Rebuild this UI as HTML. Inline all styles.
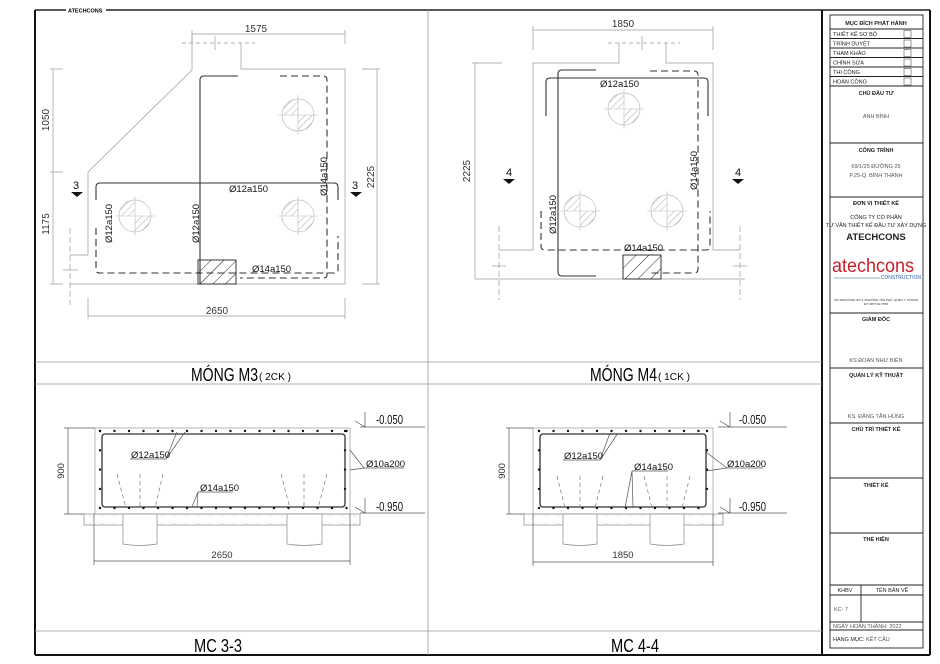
<!DOCTYPE html>
<html><head><meta charset="utf-8"><style>
html,body{margin:0;padding:0;background:#fff;}
svg{display:block;font-family:"Liberation Sans",sans-serif;}
</style></head><body>
<svg width="940" height="664" viewBox="0 0 940 664" xmlns="http://www.w3.org/2000/svg">
<defs>
<pattern id="h" width="5" height="5" patternUnits="userSpaceOnUse" patternTransform="rotate(45)"><line x1="0" y1="0" x2="0" y2="5" stroke="#aaa" stroke-width="1"/></pattern>
<pattern id="hb" width="9" height="9" patternUnits="userSpaceOnUse" patternTransform="rotate(45)"><line x1="0" y1="0" x2="0" y2="9" stroke="#222" stroke-width="1"/></pattern>
<pattern id="sand" width="12" height="8" patternUnits="userSpaceOnUse"><circle cx="2" cy="2" r="0.4" fill="#999"/><circle cx="8" cy="5" r="0.4" fill="#999"/><line x1="5" y1="3" x2="7" y2="3.5" stroke="#bbb" stroke-width="0.4"/></pattern>
<g id="pile"><circle cx="0" cy="0" r="16" fill="none" stroke="#bbb" stroke-width="0.7"/><path d="M0,0 H-16 A16,16 0 0 1 0,-16 Z" fill="url(#h)"/><path d="M0,0 H16 A16,16 0 0 1 0,16 Z" fill="url(#h)"/><line x1="-20" y1="0" x2="20" y2="0" stroke="#bbb" stroke-width="0.6"/><line x1="0" y1="-20" x2="0" y2="20" stroke="#bbb" stroke-width="0.6"/></g>
<g id="sec"><path d="M-6,0 H6 L0,5 Z" fill="#111"/></g>
</defs>

<!-- frame -->
<line x1="35" y1="10" x2="930" y2="10" stroke="#222" stroke-width="1.5"/>
<rect x="66" y="6" width="40" height="8" fill="#fff"/>
<text x="68" y="12.5" font-size="5.5" font-weight="bold">ATECHCONS</text>
<line x1="35" y1="10" x2="35" y2="655" stroke="#111" stroke-width="2"/>
<line x1="35" y1="655" x2="930" y2="655" stroke="#111" stroke-width="2"/>
<line x1="930" y1="10" x2="930" y2="655" stroke="#111" stroke-width="2"/>
<line x1="822" y1="10" x2="822" y2="655" stroke="#111" stroke-width="2"/>
<line x1="428" y1="10" x2="428" y2="655" stroke="#999" stroke-width="0.8"/>
<g stroke="#999" stroke-width="0.8">
<line x1="35" y1="362" x2="822" y2="362"/><line x1="35" y1="384" x2="822" y2="384"/>
<line x1="35" y1="631" x2="822" y2="631"/>
</g>
<text x="191" y="381" font-size="18" textLength="67" lengthAdjust="spacingAndGlyphs">MÓNG M3</text>
<text x="259" y="380" font-size="10" textLength="32" lengthAdjust="spacingAndGlyphs">( 2CK )</text>
<text x="590" y="381" font-size="18" textLength="67" lengthAdjust="spacingAndGlyphs">MÓNG M4</text>
<text x="658" y="380" font-size="10" textLength="32" lengthAdjust="spacingAndGlyphs">( 1CK )</text>
<text x="194" y="652" font-size="18" textLength="48" lengthAdjust="spacingAndGlyphs">MC 3-3</text>
<text x="611" y="652" font-size="18" textLength="48" lengthAdjust="spacingAndGlyphs">MC 4-4</text>

<!-- ===== M3 plan ===== -->
<g fill="none" stroke="#999" stroke-width="0.7">
<path d="M192,35 V70 L88,172 V255 H70"/>
<path d="M241,43 V69 H345 V284 H70"/>
<line x1="182" y1="43" x2="255" y2="43" stroke-dasharray="4,3"/>
<line x1="215" y1="36" x2="215" y2="50"/>
<line x1="70" y1="228" x2="70" y2="305" stroke-dasharray="6,3"/>
<line x1="63" y1="270" x2="78" y2="270"/>
<!-- dims -->
<line x1="192" y1="34" x2="345" y2="34"/><line x1="192" y1="30" x2="192" y2="44"/><line x1="345" y1="30" x2="345" y2="44"/>
<line x1="53" y1="69" x2="53" y2="284"/><line x1="50" y1="69" x2="63" y2="69"/><line x1="50" y1="172" x2="63" y2="172"/><line x1="50" y1="284" x2="63" y2="284"/>
<line x1="377" y1="69" x2="377" y2="284"/><line x1="362" y1="69" x2="380" y2="69"/><line x1="362" y1="284" x2="380" y2="284"/>
<line x1="88" y1="316" x2="345" y2="316"/><line x1="88" y1="298" x2="88" y2="319"/><line x1="345" y1="298" x2="345" y2="319"/>
</g>
<g font-size="10" fill="#333">
<text x="256" y="32" text-anchor="middle">1575</text>
<text transform="translate(49,120) rotate(-90)" text-anchor="middle">1050</text>
<text transform="translate(49,224) rotate(-90)" text-anchor="middle">1175</text>
<text transform="translate(374,177) rotate(-90)" text-anchor="middle">2225</text>
<text x="217" y="314" text-anchor="middle">2650</text>
</g>
<use href="#pile" x="298" y="115"/><use href="#pile" x="135" y="216"/><use href="#pile" x="298" y="216"/>
<g fill="none" stroke="#333" stroke-width="1.1">
<path d="M238,76 H204 Q200,76 200,80 V284"/>
<path d="M96,200 V187 Q96,183 100,183 H334 Q338,183 338,187 V200"/>
<path d="M96,228 V270 Q96,273 100,273 H334 Q338,273 338,270 V236" stroke-dasharray="7,4"/>
<path d="M280,76 H323 Q327,76 327,80 V275 Q327,278 323,278 H240" stroke-dasharray="7,4"/>
</g>
<rect x="198" y="260" width="38" height="24" fill="url(#hb)" stroke="#222" stroke-width="0.9"/>
<g font-size="9.5" fill="#111">
<text x="229" y="192">Ø12a150</text>
<text x="252" y="272">Ø14a150</text>
<text transform="translate(112,243) rotate(-90)">Ø12a150</text>
<text transform="translate(199,243) rotate(-90)">Ø12a150</text>
<text transform="translate(327,196) rotate(-90)">Ø14a150</text>
<text x="76" y="189" font-size="11" text-anchor="middle">3</text>
<text x="355" y="189" font-size="11" text-anchor="middle">3</text>
</g>
<use href="#sec" x="77" y="192"/><use href="#sec" x="356" y="192"/>

<!-- ===== M4 plan ===== -->
<g fill="none" stroke="#999" stroke-width="0.7">
<path d="M619,43 V63 H533 V250 H499"/>
<path d="M666,43 V63 H713 V250 H740"/>
<line x1="475" y1="279" x2="745" y2="279"/>
<line x1="608" y1="43" x2="680" y2="43" stroke-dasharray="4,3"/>
<line x1="642" y1="36" x2="642" y2="50"/>
<line x1="499" y1="226" x2="499" y2="300" stroke-dasharray="6,3"/>
<line x1="740" y1="226" x2="740" y2="300" stroke-dasharray="6,3"/>
<line x1="492" y1="266" x2="506" y2="266"/><line x1="733" y1="266" x2="747" y2="266"/>
<line x1="533" y1="30" x2="713" y2="30"/><line x1="533" y1="26" x2="533" y2="50"/><line x1="713" y1="26" x2="713" y2="50"/>
<line x1="475" y1="63" x2="475" y2="279"/><line x1="472" y1="63" x2="502" y2="63"/>
</g>
<g font-size="10" fill="#333">
<text x="623" y="27" text-anchor="middle">1850</text>
<text transform="translate(470,171) rotate(-90)" text-anchor="middle">2225</text>
</g>
<use href="#pile" x="624" y="109"/><use href="#pile" x="580" y="211"/><use href="#pile" x="667" y="211"/>
<g fill="none" stroke="#333" stroke-width="1.1">
<path d="M596,70 H562 Q558,70 558,74 V272 Q558,276 562,276 H596"/>
<path d="M650,71 H694 Q698,71 698,75 V269 Q698,273 694,273 H650" stroke-dasharray="7,4"/>
<path d="M546,116 V82 Q546,78 550,78 H704 Q708,78 708,82 V116"/>
<path d="M541,211 V246 Q541,250 545,250 H706 Q710,250 710,246 V211" stroke-dasharray="7,4"/>
</g>
<rect x="623" y="255" width="38" height="24" fill="url(#hb)" stroke="#222" stroke-width="0.9"/>
<g font-size="9.5" fill="#111">
<text x="600" y="87">Ø12a150</text>
<text x="624" y="251">Ø14a150</text>
<text transform="translate(697,190) rotate(-90)">Ø14a150</text>
<text transform="translate(556,234) rotate(-90)">Ø12a150</text>
<text x="509" y="176" font-size="11" text-anchor="middle">4</text>
<text x="738" y="176" font-size="11" text-anchor="middle">4</text>
</g>
<use href="#sec" x="509" y="179"/><use href="#sec" x="738" y="179"/>

<!-- ===== MC 3-3 ===== -->
<rect x="84" y="514" width="276" height="11" fill="url(#sand)" stroke="#888" stroke-width="0.7"/>
<path d="M123,514 V544 Q140,547 157,544 V514 Z" fill="#fff" stroke="#888" stroke-width="0.7"/>
<path d="M287,514 V544 Q304,547 322,544 V514 Z" fill="#fff" stroke="#888" stroke-width="0.7"/>
<rect x="95" y="428" width="255" height="86" fill="none" stroke="#999" stroke-width="0.7"/>
<rect x="102" y="434" width="243" height="73" rx="3" fill="none" stroke="#333" stroke-width="1.3"/>
<g stroke="#111" stroke-width="2.4" stroke-linecap="round">
<line x1="100" y1="431" x2="347" y2="431" stroke-dasharray="0 14.5"/>
<line x1="100" y1="508" x2="347" y2="508" stroke-dasharray="0 14.5"/>
<line x1="100" y1="431" x2="100" y2="508" stroke-dasharray="0 19.3"/>
<line x1="345" y1="431" x2="345" y2="508" stroke-dasharray="0 19.3"/>
</g>
<g fill="none" stroke="#777" stroke-width="0.7" stroke-dasharray="4,3">
<line x1="117" y1="474" x2="126" y2="508"/><line x1="140" y1="474" x2="140" y2="508"/><line x1="163" y1="474" x2="155" y2="508"/>
<line x1="281" y1="474" x2="290" y2="508"/><line x1="304" y1="474" x2="304" y2="508"/><line x1="327" y1="474" x2="318" y2="508"/>
</g>
<g fill="none" stroke="#555" stroke-width="0.7">
<path d="M130,459 H166 L177,432 M166,459 L185,432"/>
<path d="M364,468 H404 M364,468 L350,450 M364,468 L350,470"/>
<path d="M198,492 H233 M198,492 L192,507 M198,492 L197,507"/>
<line x1="68" y1="428" x2="68" y2="514"/><line x1="64" y1="428" x2="95" y2="428"/><line x1="64" y1="514" x2="84" y2="514"/>
<line x1="94" y1="561" x2="350" y2="561"/><line x1="94" y1="514" x2="94" y2="565"/><line x1="350" y1="514" x2="350" y2="565"/>
<path d="M360,427 H425 M365,412 V427 L355,421"/>
<path d="M360,513 H425 M365,498 V513 L355,507"/>
</g>
<g font-size="9.5" fill="#111">
<text x="131" y="458">Ø12a150</text>
<text x="366" y="467">Ø10a200</text>
<text x="200" y="491">Ø14a150</text>
<text transform="translate(64,471) rotate(-90)" text-anchor="middle" fill="#333">900</text>
<text x="222" y="558" text-anchor="middle" fill="#333">2650</text>
<text x="376" y="424" font-size="12.5" textLength="27" lengthAdjust="spacingAndGlyphs">-0.050</text>
<text x="376" y="511" font-size="12.5" textLength="27" lengthAdjust="spacingAndGlyphs">-0.950</text>
</g>

<!-- ===== MC 4-4 ===== -->
<rect x="524" y="514" width="199" height="11" fill="url(#sand)" stroke="#888" stroke-width="0.7"/>
<path d="M563,514 V544 Q580,547 597,544 V514 Z" fill="#fff" stroke="#888" stroke-width="0.7"/>
<path d="M650,514 V544 Q667,547 684,544 V514 Z" fill="#fff" stroke="#888" stroke-width="0.7"/>
<rect x="533" y="428" width="180" height="86" fill="none" stroke="#999" stroke-width="0.7"/>
<rect x="540" y="434" width="166" height="73" rx="3" fill="none" stroke="#333" stroke-width="1.3"/>
<g stroke="#111" stroke-width="2.4" stroke-linecap="round">
<line x1="539" y1="431" x2="708" y2="431" stroke-dasharray="0 14.5"/>
<line x1="539" y1="508" x2="708" y2="508" stroke-dasharray="0 14.5"/>
<line x1="539" y1="431" x2="539" y2="508" stroke-dasharray="0 19.3"/>
<line x1="707" y1="431" x2="707" y2="508" stroke-dasharray="0 19.3"/>
</g>
<g fill="none" stroke="#777" stroke-width="0.7" stroke-dasharray="4,3">
<line x1="557" y1="476" x2="565" y2="508"/><line x1="580" y1="476" x2="580" y2="508"/><line x1="603" y1="476" x2="595" y2="508"/>
<line x1="644" y1="476" x2="652" y2="508"/><line x1="667" y1="476" x2="667" y2="508"/><line x1="690" y1="476" x2="682" y2="508"/>
</g>
<g fill="none" stroke="#555" stroke-width="0.7">
<path d="M563,460 H600 L610,433 M600,460 L618,433"/>
<path d="M727,468 H763 M727,468 L706,452 M727,468 L706,471"/>
<path d="M632,471 H668 M632,471 L625,508 M632,471 L633,508"/>
<line x1="509" y1="428" x2="509" y2="514"/><line x1="506" y1="428" x2="533" y2="428"/><line x1="506" y1="514" x2="524" y2="514"/>
<line x1="533" y1="562" x2="713" y2="562"/><line x1="533" y1="514" x2="533" y2="566"/><line x1="713" y1="514" x2="713" y2="566"/>
<path d="M718,427 H787 M730,412 V427 L720,421"/>
<path d="M718,513 H787 M730,498 V513 L720,507"/>
</g>
<g font-size="9.5" fill="#111">
<text x="564" y="459">Ø12a150</text>
<text x="634" y="470">Ø14a150</text>
<text x="727" y="467">Ø10a200</text>
<text transform="translate(505,471) rotate(-90)" text-anchor="middle" fill="#333">900</text>
<text x="623" y="558" text-anchor="middle" fill="#333">1850</text>
<text x="739" y="424" font-size="12.5" textLength="27" lengthAdjust="spacingAndGlyphs">-0.050</text>
<text x="739" y="511" font-size="12.5" textLength="27" lengthAdjust="spacingAndGlyphs">-0.950</text>
</g>

<!-- ===== Title block ===== -->
<g fill="none" stroke="#222" stroke-width="0.9">
<rect x="830" y="15" width="93" height="633"/>
<line x1="830" y1="29" x2="923" y2="29"/><line x1="830" y1="38.5" x2="923" y2="38.5"/><line x1="830" y1="48" x2="923" y2="48"/>
<line x1="830" y1="57.5" x2="923" y2="57.5"/><line x1="830" y1="67" x2="923" y2="67"/><line x1="830" y1="76.5" x2="923" y2="76.5"/>
<line x1="830" y1="86" x2="923" y2="86"/><line x1="830" y1="143" x2="923" y2="143"/><line x1="830" y1="197" x2="923" y2="197"/>
<line x1="830" y1="313" x2="923" y2="313"/><line x1="830" y1="368" x2="923" y2="368"/><line x1="830" y1="423" x2="923" y2="423"/>
<line x1="830" y1="478" x2="923" y2="478"/><line x1="830" y1="533" x2="923" y2="533"/><line x1="830" y1="585" x2="923" y2="585"/>
<line x1="830" y1="595" x2="923" y2="595"/><line x1="830" y1="622" x2="923" y2="622"/><line x1="830" y1="630" x2="923" y2="630"/>
<line x1="861" y1="585" x2="861" y2="622"/>
<g stroke="#555" stroke-width="0.6">
<rect x="904" y="30.5" width="7" height="7"/><rect x="904" y="40" width="7" height="7"/><rect x="904" y="49.5" width="7" height="7"/>
<rect x="904" y="59" width="7" height="7"/><rect x="904" y="68.5" width="7" height="7"/><rect x="904" y="78" width="7" height="7"/>
</g>
</g>
<g font-size="5.5" fill="#222">
<text x="876" y="25" text-anchor="middle" font-weight="bold">MỤC ĐÍCH PHÁT HÀNH</text>
<text x="833" y="36">THIẾT KẾ SƠ BỘ</text>
<text x="833" y="45.5">TRÌNH DUYỆT</text>
<text x="833" y="55">THAM KHẢO</text>
<text x="833" y="64.5">CHỈNH SỬA</text>
<text x="833" y="74">THI CÔNG</text>
<text x="833" y="83.5">HOÀN CÔNG</text>
<text x="876" y="95" text-anchor="middle" font-weight="bold">CHỦ ĐẦU TƯ</text>
<text x="876" y="118" text-anchor="middle" fill="#555">ANH BÌNH</text>
<text x="876" y="152" text-anchor="middle" font-weight="bold">CÔNG TRÌNH</text>
<text x="876" y="168" text-anchor="middle" fill="#555">69/1/25 ĐƯỜNG 25</text>
<text x="876" y="177" text-anchor="middle" fill="#555">P.25-Q. BÌNH THẠNH</text>
<text x="876" y="205" text-anchor="middle" font-weight="bold">ĐƠN VỊ THIẾT KẾ</text>
<text x="876" y="219" text-anchor="middle">CÔNG TY CỔ PHẦN</text>
<text x="876" y="227" text-anchor="middle">TƯ VẤN THIẾT KẾ ĐẦU TƯ XÂY DỰNG</text>
<text x="876" y="240" text-anchor="middle" font-size="9.5" font-weight="bold">ATECHCONS</text>
<text x="832" y="272" font-size="19" fill="#c8202a" textLength="82" lengthAdjust="spacingAndGlyphs">atechcons</text>
<text x="921" y="279" font-size="5" fill="#2a5ba8" text-anchor="end">CONSTRUCTION</text>
<line x1="834" y1="278" x2="880" y2="278" stroke="#2a5ba8" stroke-width="0.6"/>
<text x="876" y="301" text-anchor="middle" font-size="3">SỐ 18 ĐƯỜNG SỐ 4, PHƯỜNG TÂN PHÚ, QUẬN 7, TP.HCM</text>
<text x="876" y="305" text-anchor="middle" font-size="3">ĐT: 0877.00.7878</text>
<text x="876" y="321" text-anchor="middle" font-weight="bold">GIÁM ĐỐC</text>
<text x="876" y="362" text-anchor="middle" fill="#555">KS.ĐOÀN NHƯ BIỂN</text>
<text x="876" y="377" text-anchor="middle" font-weight="bold">QUẢN LÝ KỸ THUẬT</text>
<text x="876" y="418" text-anchor="middle" fill="#555">KS. ĐẶNG TẤN HÙNG</text>
<text x="876" y="431" text-anchor="middle" font-weight="bold">CHỦ TRÌ THIẾT KẾ</text>
<text x="876" y="487" text-anchor="middle" font-weight="bold">THIẾT KẾ</text>
<text x="876" y="541" text-anchor="middle" font-weight="bold">THỂ HIỆN</text>
<text x="845" y="592" text-anchor="middle">KHBV</text>
<text x="892" y="592" text-anchor="middle">TÊN BẢN VẼ</text>
<text x="834" y="611" fill="#555">KC- 7</text>
<text x="833" y="628" fill="#555">NGÀY HOÀN THÀNH: 2022</text>
<text x="833" y="641">HẠNG MỤC: <tspan fill="#555">KẾT CẤU</tspan></text>
</g>
</svg>
</body></html>
